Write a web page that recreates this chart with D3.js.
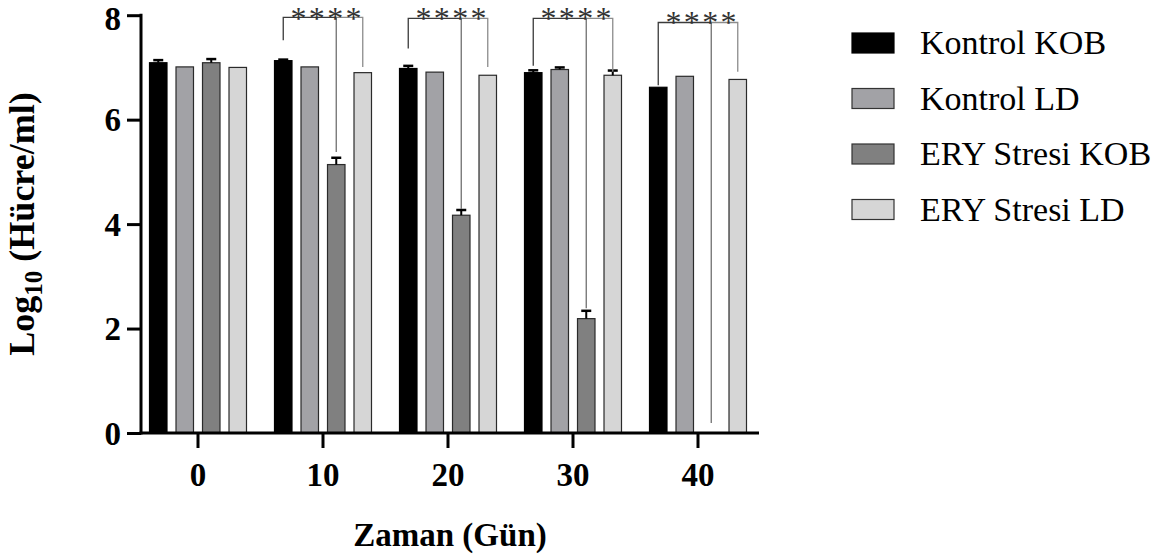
<!DOCTYPE html>
<html>
<head>
<meta charset="utf-8">
<script src="https://cdn.jsdelivr.net/npm/d3@7"></script>
<style>
  html, body { margin: 0; padding: 0; background: #fff; }
  svg { display: block; }
  text { font-family: "Liberation Serif", "Times New Roman", serif; }
</style>
</head>
<body>
<svg id="chart" width="1164" height="556"></svg>
<script>
// ---------- data ----------
const days = ["0", "10", "20", "30", "40"];
const seriesNames = ["Kontrol KOB", "Kontrol LD", "ERY Stresi KOB", "ERY Stresi LD"];
const seriesColors = ["#000000", "#a2a2a6", "#808080", "#d6d6d6"];

const kontrolKOB    = [7.09, 7.13, 6.98, 6.90, 6.62];
const kontrolKOBErr = [0.05, 0.02, 0.05, 0.045, 0.01];
const kontrolLD     = [7.01, 7.01, 6.91, 6.96, 6.83];
const kontrolLDErr  = [0.00, 0.01, 0.01, 0.04, 0.01];
const eryKOB        = [7.09, 5.14, 4.17, 2.19, null];
const eryKOBErr     = [0.07, 0.13, 0.10, 0.15, null];
const eryLD         = [7.00, 6.90, 6.85, 6.85, 6.77];
const eryLDErr      = [0.01, 0.01, 0.01, 0.09, 0.01];

const yTicks = [0, 2, 4, 6, 8];

// significance brackets (values in data units)
const sigDays  = ["10", "20", "30", "40"];
const sigLabel = ["****", "****", "****", "****"];
const sigTop   = [7.96, 7.94, 7.94, 7.86];
const sigLeft  = [7.52, 7.36, 7.03, 6.66];
const sigRight = [7.01, 7.01, 6.915, 6.915];
const sigMid   = [5.38, 4.29, 2.39, 0.19];

// ---------- build ----------
const values = [kontrolKOB, kontrolLD, eryKOB, eryLD];
const errors = [kontrolKOBErr, kontrolLDErr, eryKOBErr, eryLDErr];
const rows = [];
days.forEach((d, i) => seriesNames.forEach((s, j) => {
  if (values[j][i] != null) rows.push({day: d, s: s, j: j, v: values[j][i], e: errors[j][i]});
}));

const svg = d3.select("#chart");

const x = d3.scaleBand().domain(days).range([135.5, 760.5]).paddingInner(0.224).paddingOuter(0.112);
const xs = d3.scaleBand().domain(seriesNames).range([0, x.bandwidth()]).paddingInner(0.34).paddingOuter(0);
const y = d3.scaleLinear().domain([0, 8]).range([433, 15.2]);

// bars
svg.append("g").selectAll("rect").data(rows).join("rect")
  .attr("x", d => x(d.day) + xs(d.s))
  .attr("y", d => y(d.v))
  .attr("width", xs.bandwidth())
  .attr("height", d => y(0) - y(d.v))
  .attr("fill", d => seriesColors[d.j])
  .attr("stroke", d => d.j === 0 ? "#000" : "#2a2a2a")
  .attr("stroke-width", 1.2);

// error bars (upper only)
const eg = svg.append("g").attr("stroke", "#000").attr("stroke-width", 2);
rows.filter(d => d.e > 0.015).forEach(d => {
  const cx = x(d.day) + xs(d.s) + xs.bandwidth() / 2;
  eg.append("line").attr("x1", cx).attr("x2", cx).attr("y1", y(d.v)).attr("y2", y(d.v + d.e));
  eg.append("line").attr("x1", cx - 5).attr("x2", cx + 5).attr("y1", y(d.v + d.e)).attr("y2", y(d.v + d.e)).attr("stroke-width", 2.5);
});

// significance brackets
const sg = svg.append("g").attr("fill", "none");
sigDays.forEach((d, i) => {
  const xl = x(d) + xs(seriesNames[0]) + xs.bandwidth() / 2;
  const xm = x(d) + xs(seriesNames[2]) + xs.bandwidth() / 2;
  const xr = x(d) + xs(seriesNames[3]) + xs.bandwidth() / 2;
  sg.append("path").attr("d", `M${xl},${y(sigLeft[i])}V${y(sigTop[i])}H${xm}`)
    .attr("stroke", "#3a3a3a").attr("stroke-width", 1.3);
  sg.append("path").attr("d", `M${xm},${y(sigTop[i])}H${xr}V${y(sigRight[i])}`)
    .attr("stroke", "#8c8c8c").attr("stroke-width", 1.3);
  sg.append("line").attr("x1", xm).attr("x2", xm).attr("y1", y(sigTop[i])).attr("y2", y(sigMid[i]))
    .attr("stroke", "#707070").attr("stroke-width", 1.3);
  const cxs = (xl + xr) / 2 + 3;
  const base = Math.max(y(sigTop[i]) + 10, 29);
  sigLabel[i].split("").forEach((c, k) => {
    svg.append("text").attr("x", cxs + (k - 1.5) * 18.3).attr("y", base)
      .attr("text-anchor", "middle").attr("font-size", 32).attr("fill", "#333").text(c);
  });
});

// axes
const yAxis = svg.append("g").attr("transform", "translate(141,0)")
  .call(d3.axisLeft(y).tickValues(yTicks).tickFormat(d3.format("d")).tickSize(14).tickPadding(6));
const xAxis = svg.append("g").attr("transform", "translate(0,433)")
  .call(d3.axisBottom(x).tickSize(15).tickPadding(9));
[yAxis, xAxis].forEach(a => {
  a.select(".domain").remove();
  a.selectAll(".tick line").attr("stroke", "#000").attr("stroke-width", 3);
  a.selectAll(".tick text").attr("font-family", "Liberation Serif").attr("font-weight", "bold")
    .attr("font-size", 33).attr("fill", "#000");
});
yAxis.selectAll(".tick text").attr("dy", "0.34em")
  .attr("y", d => Math.max(0, 29.6 - (y(d) + 0.34 * 33)));
xAxis.selectAll(".tick text").attr("dy", "0.87em");
svg.append("line").attr("x1", 141).attr("x2", 141).attr("y1", 13.7).attr("y2", 434.5)
  .attr("stroke", "#000").attr("stroke-width", 3);
svg.append("line").attr("x1", 139.5).attr("x2", 759).attr("y1", 433).attr("y2", 433)
  .attr("stroke", "#000").attr("stroke-width", 3);

// axis titles
svg.append("text").attr("transform", "translate(450,546)")
  .attr("text-anchor", "middle").attr("font-weight", "bold").attr("font-size", 33)
  .text("Zaman (Gün)");

const yt = svg.append("text").attr("transform", "translate(34,224) rotate(-90)")
  .attr("text-anchor", "middle").attr("font-weight", "bold").attr("font-size", 36);
yt.append("tspan").text("Log");
yt.append("tspan").attr("font-size", 25).attr("dy", 8).text("10");
yt.append("tspan").attr("dy", -8).text(" (Hücre/ml)");

// legend
const lg = svg.append("g");
seriesNames.forEach((s, i) => {
  const yy = 33 + i * 55.5;
  lg.append("rect").attr("x", 852).attr("y", yy).attr("width", 42).attr("height", 20)
    .attr("fill", seriesColors[i]).attr("stroke", i === 0 ? "#000" : "#333").attr("stroke-width", 1.2);
  lg.append("text").attr("x", 920).attr("y", yy + 21)
    .attr("font-size", 34).attr("fill", "#000").text(s);
});
</script>
</body>
</html>
